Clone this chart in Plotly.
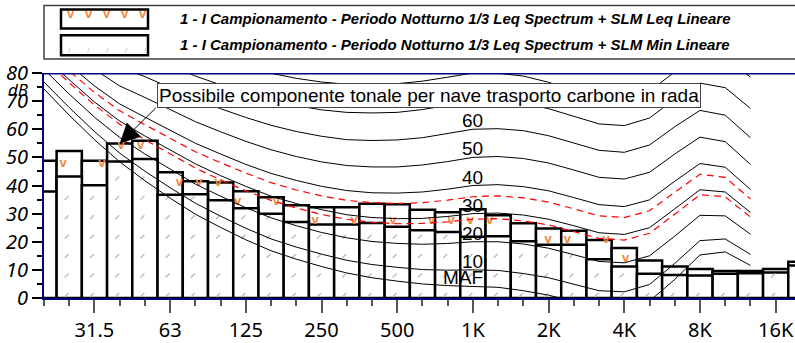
import plotly.graph_objects as go

# Third-octave band centre frequencies, 20 Hz .. 20 kHz
bands = ["20", "25", "31.5", "40", "50", "63", "80", "100", "125", "160",
         "200", "250", "315", "400", "500", "630", "800", "1K", "1.25K", "1.6K",
         "2K", "2.5K", "3.15K", "4K", "5K", "6.3K", "8K", "10K", "12.5K", "16K", "20K"]
labeled = ["31.5", "63", "125", "250", "500", "1K", "2K", "4K", "8K", "16K"]

# 1/3 octave spectra, dB (linear)
leq_db = [48.8, 52.3, 48.8, 54.9, 55.9, 44.7, 41.5, 41.1, 38.0, 35.8,
          33.0, 32.3, 32.3, 33.5, 33.3, 31.4, 30.5, 31.6, 29.4, 26.6,
          24.7, 23.9, 20.6, 17.8, 13.3, 11.2, 10.3, 9.6, 9.6, 10.3, 12.9]
min_db = [37.9, 43.2, 40.1, 48.5, 49.4, 36.7, 36.9, 34.8, 31.9, 30.0,
          27.0, 26.1, 26.1, 26.7, 25.3, 24.1, 23.5, 21.8, 22.0, 20.2,
          18.9, 18.9, 13.8, 11.2, 8.6, 8.2, 8.0, 8.6, 8.8, 9.1, 11.6]

# Equal-loudness contours, 20 Hz .. 12.5 kHz (dB)
maf = [74.3, 65.0, 56.3, 48.4, 41.7, 35.5, 29.8, 25.1, 20.7, 16.8, 13.8, 11.2, 8.9, 7.2, 6.0,
       5.0, 4.4, 4.2, 3.8, 2.6, 1.0, -1.2, -3.6, -3.9, -1.1, 6.6, 15.3, 16.4, 11.6]
phon_10 = [76.8, 67.7, 59.2, 51.5, 45.1, 39.2, 33.7, 29.1, 24.8, 21.0, 18.1, 15.6, 13.4, 11.9, 10.9,
           10.1, 9.9, 10.0, 9.8, 8.7, 7.2, 5.0, 2.6, 2.2, 4.8, 12.3, 20.4, 21.0, 15.5]
phon_20 = [81.3, 72.5, 64.3, 57.1, 51.2, 45.8, 40.5, 36.2, 32.1, 28.5, 25.7, 23.3, 21.4, 20.1, 19.4,
           19.1, 19.4, 20.0, 20.0, 19.2, 17.7, 15.4, 13.0, 12.5, 15.0, 22.0, 29.4, 29.2, 22.7]
phon_30 = [86.0, 77.6, 69.7, 62.9, 57.6, 52.6, 47.7, 43.5, 39.7, 36.2, 33.6, 31.4, 29.6, 28.6, 28.2,
           28.3, 29.0, 30.0, 30.2, 29.5, 28.0, 25.7, 23.2, 22.6, 25.0, 31.7, 38.5, 37.7, 30.4]
phon_40 = [91.0, 82.9, 75.4, 69.0, 64.3, 59.7, 55.0, 51.2, 47.5, 44.3, 41.8, 39.7, 38.2, 37.4, 37.3,
           37.7, 38.7, 40.0, 40.3, 39.6, 38.1, 35.7, 33.2, 32.5, 34.9, 41.5, 47.8, 46.5, 38.6]
phon_50 = [96.2, 88.5, 81.3, 75.4, 71.3, 67.1, 62.7, 59.1, 55.7, 52.7, 50.3, 48.4, 47.1, 46.6, 46.6,
           47.3, 48.5, 50.0, 50.3, 49.6, 48.0, 45.5, 42.9, 42.3, 44.7, 51.2, 57.2, 55.6, 47.5]
phon_60 = [101.7, 94.4, 87.6, 82.2, 78.7, 74.8, 70.6, 67.3, 64.2, 61.4, 59.2, 57.5, 56.3, 56.0, 56.2,
           57.0, 58.4, 60.0, 60.2, 59.5, 57.7, 55.1, 52.5, 51.8, 54.4, 60.9, 66.7, 65.0, 57.0]
phon_70 = [107.6, 100.7, 94.3, 89.2, 86.4, 82.8, 78.9, 75.8, 73.0, 70.5, 68.4, 66.9, 66.0, 65.8, 66.0,
           67.0, 68.4, 70.0, 70.1, 69.3, 67.3, 64.5, 61.9, 61.3, 64.0, 70.7, 76.4, 74.8, 67.4]
phon_80 = [113.7, 107.3, 101.3, 96.6, 94.6, 91.1, 87.4, 84.7, 82.2, 79.9, 78.1, 76.8, 76.0, 75.9, 76.2,
           77.1, 78.5, 80.0, 79.9, 78.9, 76.7, 73.7, 71.0, 70.5, 73.5, 80.4, 86.3, 84.9, 78.6]
# Loudness-level curves of the two spectra (red dashed)
loud_leq = [89.0, 80.7, 73.1, 66.6, 61.6, 56.9, 52.0, 48.1, 44.4, 41.0, 38.4, 36.3, 34.7, 33.9, 33.6,
            33.9, 34.8, 36.0, 36.3, 35.6, 34.1, 31.7, 29.2, 28.6, 31.0, 37.6, 44.0, 42.9, 35.2]
loud_min = [85.1, 76.5, 68.6, 61.8, 56.3, 51.3, 46.2, 42.0, 38.1, 34.7, 32.0, 29.7, 28.0, 26.9, 26.4,
            26.5, 27.1, 28.0, 28.2, 27.4, 26.0, 23.6, 21.2, 20.6, 23.0, 29.8, 36.7, 36.0, 28.8]

contours = [("MAF", maf, 4.2), ("10", phon_10, 10), ("20", phon_20, 20), ("30", phon_30, 30),
            ("40", phon_40, 40), ("50", phon_50, 50), ("60", phon_60, 60), ("", phon_70, None),
            ("", phon_80, None)]

# ---- page geometry (pixels) ----
W, H = 795, 343
ML, MT, MB = 44, 73, 43
BAND_PX = 25.23
PLOT_W = W - ML
PLOT_H = H - MT - MB
NAVY = "#000080"
ORANGE = "#f5873a"
GREY_TICK = "#bcbcbc"


def px2band(px):
    return (px - ML) / BAND_PX


def py2db(py):
    return (H - MB - py) / (PLOT_H / 80.0)


def px2paper(px):
    return (px - ML) / PLOT_W


def py2paper(py):
    return (H - MB - py) / PLOT_H


idx = list(range(len(bands)))
fig = go.Figure()

# Leq bars
fig.add_trace(go.Bar(x=idx, y=leq_db, width=1.0, hoverinfo="skip",
                     marker=dict(color="white", line=dict(color="black", width=2.5))))

# orange chevron fill of the Leq bars (only the part above the Min bars shows)
vx, vy = [], []
step_x = 19.4 / BAND_PX
v_rows = [54.3 - 6.7 * k for k in range(8)]
pos = 19.0 / BAND_PX
while pos < len(bands) - 0.5:
    b = int(round(pos))
    if abs(pos - b) < 0.4:
        for r in v_rows:
            if min_db[b] + 0.8 < r < leq_db[b] + 0.6:
                vx.append(pos)
                vy.append(r)
    pos += step_x
fig.add_trace(go.Scatter(x=vx, y=vy, mode="text", text=["v"] * len(vx), hoverinfo="skip",
                         textfont=dict(color=ORANGE, size=13, family="Liberation Sans",
                                       weight="bold")))

# Min bars
fig.add_trace(go.Bar(x=idx, y=min_db, width=1.0, hoverinfo="skip",
                     marker=dict(color="white", line=dict(color="black", width=2.5))))

# grey tick fill of the Min bars
gx, gy = [], []
g_rows = [1.1 + 6.9 * k for k in range(12)]
for b in idx:
    for r in g_rows:
        if r < min_db[b] - 1.0:
            gx.append(b - 0.1)
            gy.append(r)
fig.add_trace(go.Scatter(x=gx, y=gy, mode="markers", hoverinfo="skip",
                         marker=dict(symbol="line-ne", size=4,
                                     line=dict(color=GREY_TICK, width=1.4))))

# equal-loudness contours
for name, vals, _ in contours:
    fig.add_trace(go.Scatter(x=list(range(len(vals))), y=vals, mode="lines", hoverinfo="skip",
                             line=dict(color="black", width=1)))
for vals in (loud_leq, loud_min):
    fig.add_trace(go.Scatter(x=list(range(len(vals))), y=vals, mode="lines", hoverinfo="skip",
                             line=dict(color="#ff0000", width=1.2, dash="7px,5px")))

annotations = []
# contour labels at 1 kHz
for name, vals, level in contours:
    if not name:
        continue
    annotations.append(dict(x=px2band(485), y=level, xref="x", yref="y", text=name,
                            showarrow=False, xanchor="right", yanchor="bottom", yshift=-4,
                            font=dict(size=19, color="black", family="Liberation Sans")))

# note box and arrow
annotations.append(dict(x=px2band(428.5), y=py2db(95.5), xref="x", yref="y",
                        text="Possibile componente tonale per nave trasporto carbone in rada",
                        showarrow=False, xanchor="center", yanchor="middle",
                        font=dict(size=19, color="black", family="Liberation Sans"),
                        bgcolor="white", bordercolor="#444444", borderwidth=1, borderpad=1))
annotations.append(dict(x=3, y=leq_db[3], xref="x", yref="y", text="",
                        ax=px2band(157.3), ay=py2db(106.7), axref="x", ayref="y",
                        showarrow=True, arrowhead=2, arrowsize=4, arrowwidth=1,
                        arrowcolor="black", standoff=0))

# y axis unit
annotations.append(dict(x=px2paper(18), y=py2paper(89.5), xref="paper", yref="paper",
                        text="dB", showarrow=False, xanchor="center", yanchor="middle",
                        font=dict(size=17, style="italic", family="Noto Sans", color="black")))

# legend
shapes = [
    dict(type="rect", xref="paper", yref="paper", x0=px2paper(44), x1=px2paper(820),
         y0=py2paper(59), y1=py2paper(5), line=dict(color="#404040", width=1.5),
         fillcolor="white", layer="above"),
    dict(type="rect", xref="paper", yref="paper", x0=px2paper(61), x1=px2paper(148),
         y0=py2paper(28), y1=py2paper(9), line=dict(color="black", width=2.5),
         fillcolor="white", layer="above"),
    dict(type="rect", xref="paper", yref="paper", x0=px2paper(61), x1=px2paper(148),
         y0=py2paper(55), y1=py2paper(35), line=dict(color="black", width=2.5),
         fillcolor="white", layer="above"),
    dict(type="line", xref="paper", yref="y", x0=0, x1=1, y0=80, y1=80,
         line=dict(color=NAVY, width=3), layer="above"),
]
for px in (65, 83, 101, 119, 137):
    annotations.append(dict(x=px2paper(px), y=py2paper(13), xref="paper", yref="paper",
                            text="v", showarrow=False, yanchor="middle",
                            font=dict(size=13, color=ORANGE, family="Liberation Sans",
                                      weight="bold")))
for px in (66, 85, 104, 123, 142):
    annotations.append(dict(x=px2paper(px), y=py2paper(50), xref="paper", yref="paper",
                            text="/", showarrow=False, yanchor="middle",
                            font=dict(size=8, color=GREY_TICK, family="Liberation Sans")))
legend_texts = ["1 - I Campionamento - Periodo Notturno 1/3 Leq Spectrum + SLM Leq Lineare",
                "1 - I Campionamento - Periodo Notturno 1/3 Leq Spectrum + SLM Min Lineare"]
for txt, py in zip(legend_texts, (18, 44.5)):
    annotations.append(dict(x=px2paper(178), y=py2paper(py), xref="paper", yref="paper",
                            text=txt, showarrow=False, xanchor="left", yanchor="middle",
                            font=dict(size=15, weight="bold", style="italic",
                                      family="Liberation Sans", color="black")))

fig.update_layout(
    width=W, height=H,
    margin=dict(l=ML, r=0, t=MT, b=MB, pad=0),
    paper_bgcolor="white", plot_bgcolor="white",
    barmode="overlay", showlegend=False,
    font=dict(family="Liberation Sans", color="black"),
    annotations=annotations, shapes=shapes,
)
fig.update_xaxes(
    range=[0, PLOT_W / BAND_PX],
    tickmode="array", tickvals=[bands.index(b) for b in labeled], ticktext=labeled,
    ticks="outside", ticklen=13, tickwidth=1.5, tickcolor="#555555",
    tickfont=dict(family="Noto Sans", size=20, color="black"),
    showline=True, linecolor=NAVY, linewidth=2,
    showgrid=False, zeroline=False,
    minor=dict(tickmode="array", tickvals=idx, ticks="outside", ticklen=6,
               tickwidth=1.5, tickcolor="#555555"),
)
fig.update_yaxes(
    range=[0, 80],
    tickmode="array", tickvals=list(range(0, 81, 10)),
    ticks="outside", ticklen=10, tickwidth=1.5, tickcolor="black",
    tickfont=dict(family="Noto Sans", size=20, style="italic", color="black"),
    showline=True, linecolor=NAVY, linewidth=2,
    showgrid=False, zeroline=False,
    minor=dict(tickmode="linear", tick0=0, dtick=5, ticks="outside", ticklen=5,
               tickwidth=1.5, tickcolor="black"),
)

fig.write_html("out.html")
